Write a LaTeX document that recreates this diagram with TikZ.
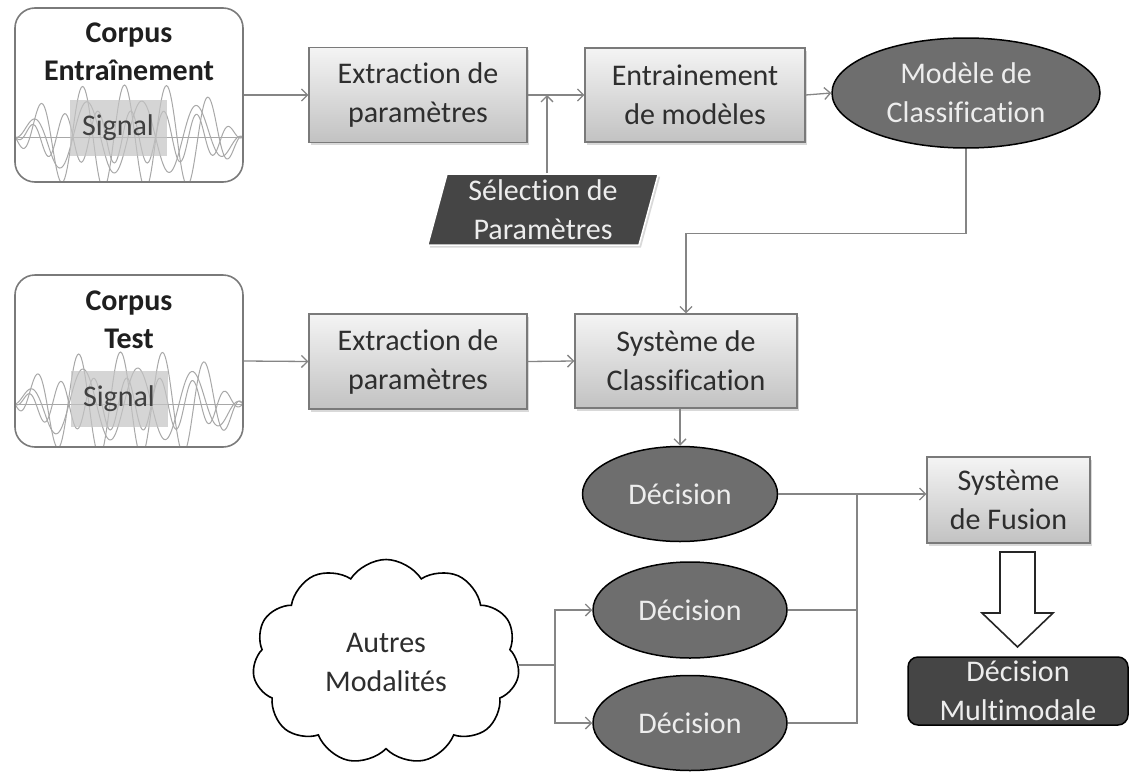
\documentclass[tikz,border=0pt]{standalone}
\usepackage{fontspec}
\setmainfont{Carlito}[Ligatures=NoCommon]
\usetikzlibrary{shapes.geometric,shapes.symbols,arrows.meta,shadows,calc}
\definecolor{wirecol}{HTML}{858585}
\definecolor{boxedge}{HTML}{7A7A7A}
\definecolor{boxtop}{HTML}{F4F4F4}
\definecolor{boxbot}{HTML}{C2C2C2}
\definecolor{ovalfill}{HTML}{6E6E6E}
\definecolor{darkfill}{HTML}{454545}
\definecolor{inktext}{HTML}{2E2E2E}
\definecolor{palet}{HTML}{EDEDED}
\definecolor{wavecol}{HTML}{A8A8A8}
\definecolor{sigfill}{HTML}{C4C4C4}

% flat-topped envelope for the signal traces (zero at both ends of the box)
\newcommand{\wenv}{(1-((\x-129)*(\x-129)/12996)*((\x-129)*(\x-129)/12996))}

\begin{document}
\begin{tikzpicture}[x=1pt,y=-1pt,
  every node/.style={font=\fontsize{30}{39}\selectfont, align=center, inner sep=0pt},
  proc/.style={rectangle, draw=boxedge, line width=1.2pt, top color=boxtop, bottom color=boxbot,
    text=inktext, drop shadow={shadow xshift=2pt, shadow yshift=-2.5pt, opacity=0.3}},
  corpus/.style={rectangle, rounded corners=20pt, draw=boxedge, line width=1.6pt, fill=white},
  corpustitle/.style={font=\bfseries\fontsize{30}{38}\selectfont, text=black!88},
  signalbox/.style={fill=sigfill, fill opacity=0.7, text opacity=1, text=black!75,
    minimum width=97pt, minimum height=56pt},
  oval/.style={ellipse, fill=ovalfill, draw=black, line width=1.5pt, text=palet},
  para/.style={trapezium, trapezium left angle=76, trapezium right angle=104, trapezium stretches=true,
    fill=darkfill, draw=white, line width=1.5pt, text=palet,
    drop shadow={shadow xshift=2pt, shadow yshift=-2.5pt, opacity=0.3}},
  darkbox/.style={rectangle, rounded corners=10pt, fill=darkfill, draw=black, line width=1.5pt, text=palet},
  puffy/.style={cloud, cloud puffs=11, cloud puff arc=115, cloud ignores aspect, draw=black, line width=1.6pt, fill=white, text=inktext},
  wavy/.style={draw=wavecol, line width=1pt},
  link/.style={draw=wirecol, line width=1.3pt, -{Straight Barb[length=6pt,width=12pt]}},
  joinline/.style={draw=wirecol, line width=1.3pt},
  fat/.style={draw=black!85, line width=1.6pt, fill=white, line join=miter},
]
\useasboundingbox (0,0) rectangle (1129,771);

% ---------- training corpus ----------
\node[corpus, minimum width=228pt, minimum height=174pt] (tr) at (129,95) {};
\begin{scope}
  \clip ($(tr.north west)+(2,2)$) rectangle ($(tr.south east)+(-2,-2)$);
  \draw[wavy] (15,137) -- (243,137);
  \draw[wavy] plot[domain=15:243, samples=180] (\x, {137 - 52*\wenv*sin((\x-30)/42*360)});
  \draw[wavy] plot[domain=15:243, samples=180] (\x, {137 - 36*\wenv*sin((\x-18)/55*360)});
  \draw[wavy] plot[domain=15:243, samples=180] (\x, {137 + 26*\wenv*sin((\x-40)/33*360)});
\end{scope}
\node[signalbox] (s1) at (118,128) {Signal};
\node[corpustitle] (t1) at (129,52) {Corpus\\Entraînement};

% ---------- test corpus ----------
\node[corpus, minimum width=228pt, minimum height=172pt] (te) at (129,361) {};
\begin{scope}
  \clip ($(te.north west)+(2,2)$) rectangle ($(te.south east)+(-2,-2)$);
  \draw[wavy] (15,404) -- (243,404);
  \draw[wavy] plot[domain=15:243, samples=180] (\x, {404 - 52*\wenv*sin((\x-26)/42*360)});
  \draw[wavy] plot[domain=15:243, samples=180] (\x, {404 - 36*\wenv*sin((\x-14)/55*360)});
  \draw[wavy] plot[domain=15:243, samples=180] (\x, {404 + 26*\wenv*sin((\x-36)/33*360)});
\end{scope}
\node[signalbox] (s2) at (119,399) {Signal};
\node[corpustitle] (t2) at (129,320) {Corpus\\Test};

% ---------- training chain ----------
\node[proc, minimum width=218pt, minimum height=95pt] (ex1) at (418,95) {Extraction de\\paramètres};
\node[proc, minimum width=220pt, minimum height=94pt] (ent) at (695,95) {Entrainement\\de modèles};
\node[oval, minimum width=268pt, minimum height=110pt] (mod) at (966,93) {Modèle de\\Classification};
\node[para, minimum width=231pt, minimum height=71pt] (sel) at (543,209.5) {Sélection de\\Paramètres};

% ---------- test chain ----------
\node[proc, minimum width=218pt, minimum height=95pt] (ex2) at (418,361.5) {Extraction de\\paramètres};
\node[proc, minimum width=222pt, minimum height=94pt] (sc) at (686,361) {Système de\\Classification};

% ---------- decisions and fusion ----------
\node[oval, minimum width=195pt, minimum height=95pt] (d1) at (680,494) {Décision};
\node[oval, minimum width=194pt, minimum height=96pt] (d2) at (690,610) {Décision};
\node[oval, minimum width=194pt, minimum height=95pt] (d3) at (690,723) {Décision};
\node[puffy, minimum width=267pt, minimum height=205pt] (cl) at (386,662) {Autres\\Modalités};
\node[proc, minimum width=163pt, minimum height=86pt] (fus) at (1008.5,500) {Système\\de Fusion};
\node[darkbox, minimum width=220pt, minimum height=68pt] (dm) at (1018,691) {Décision\\Multimodale};

% ---------- connectors ----------
\coordinate (j) at (547,95);
\coordinate (fj) at (857,494);
\coordinate (cj) at (555,665);

\draw[link] (tr.east) -- (ex1.west);
\draw[link] (ex1.east) -- (ent.west);
\draw[link] (sel.north -| j) -- (j);
\draw[link] (ent.east) -- (mod.west);
\draw[link] (mod.south) -- ++(0,85) -| (sc.north);

\draw[link] (te.east) -- (ex2.west);
\draw[link] (ex2.east) -- (sc.west);
\draw[link] (d1.north |- sc.south) -- (d1.north);

\draw[link] (d1.east) -- (fus.west |- d1.east);
\draw[joinline] (d2.east) -| (fj);
\draw[joinline] (d3.east) -| (fj);

\draw[joinline] (cl.east |- cj) -- (cj);
\draw[link] (cj) |- (d2.west);
\draw[link] (cj) |- (d3.west);

% hollow block arrow from fusion to the final decision
\draw[fat] (1000,552) -- (1035,552) -- (1035,613) -- (1053,613) -- (1017.5,647)
  -- (982,613) -- (1000,613) -- cycle;
\end{tikzpicture}
\end{document}
